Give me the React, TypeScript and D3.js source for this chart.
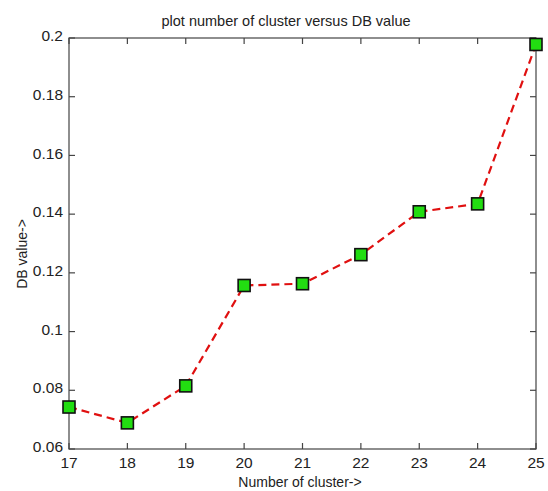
import * as React from 'react';
import * as d3 from 'd3';

const clusters = [17, 18, 19, 20, 21, 22, 23, 24, 25];
const dbValues = [0.0743, 0.0689, 0.0815, 0.1157, 0.1163, 0.1262, 0.1408, 0.1435, 0.1978];
const yTicks = [0.06, 0.08, 0.1, 0.12, 0.14, 0.16, 0.18, 0.2];

const W = 548;
const H = 491;
const margin = { top: 38, right: 12, bottom: 42, left: 69 };

const App: React.FC = () => {
  const innerW = W - margin.left - margin.right;
  const innerH = H - margin.top - margin.bottom;

  const x = d3.scaleLinear().domain([17, 25]).range([0, innerW]);
  const y = d3.scaleLinear().domain([0.06, 0.2]).range([innerH, 0]);

  const line = d3.line<number>()
    .x((_, i) => x(clusters[i]))
    .y(d => y(d));

  const font = '"Liberation Sans", Arial, sans-serif';
  const tick = 6;

  return (
    <svg width={W} height={H} style={{ position: 'absolute', left: 0, top: 0, background: 'white' }}>
      <text x={286} y={26} textAnchor="middle" fontFamily={font} fontSize={14.5} fill="#222">
        plot number of cluster versus DB value
      </text>
      <g transform={`translate(${margin.left},${margin.top})`}>
        <rect x={0} y={0} width={innerW} height={innerH} fill="none" stroke="#444" strokeWidth={1.2} />
        {clusters.map(c => (
          <g key={c}>
            <line x1={x(c)} x2={x(c)} y1={innerH} y2={innerH - tick} stroke="#444" strokeWidth={1.2} />
            <line x1={x(c)} x2={x(c)} y1={0} y2={tick} stroke="#444" strokeWidth={1.2} />
            <text x={x(c)} y={innerH + 19} textAnchor="middle" fontFamily={font} fontSize={15.5} fill="#222">{c}</text>
          </g>
        ))}
        {yTicks.map(t => (
          <g key={t}>
            <line x1={0} x2={tick} y1={y(t)} y2={y(t)} stroke="#444" strokeWidth={1.2} />
            <line x1={innerW} x2={innerW - tick} y1={y(t)} y2={y(t)} stroke="#444" strokeWidth={1.2} />
            <text x={-6} y={y(t)} dy="0.2em" textAnchor="end" fontFamily={font} fontSize={15.5} fill="#222">{String(t)}</text>
          </g>
        ))}
        <path d={line(dbValues) || ''} fill="none" stroke="#e01010" strokeWidth={2.2} strokeDasharray="8,5" />
        {dbValues.map((v, i) => (
          <rect key={i} x={x(clusters[i]) - 6} y={y(v) - 6} width={12} height={12} fill="#22dd11" stroke="#111" strokeWidth={1.6} />
        ))}
      </g>
      <text x={300} y={487} textAnchor="middle" fontFamily={font} fontSize={14} fill="#222">
        Number of cluster-&gt;
      </text>
      <text transform={`translate(27,254) rotate(-90)`} textAnchor="middle" fontFamily={font} fontSize={14} fill="#222">
        DB value-&gt;
      </text>
    </svg>
  );
};

export default App;
